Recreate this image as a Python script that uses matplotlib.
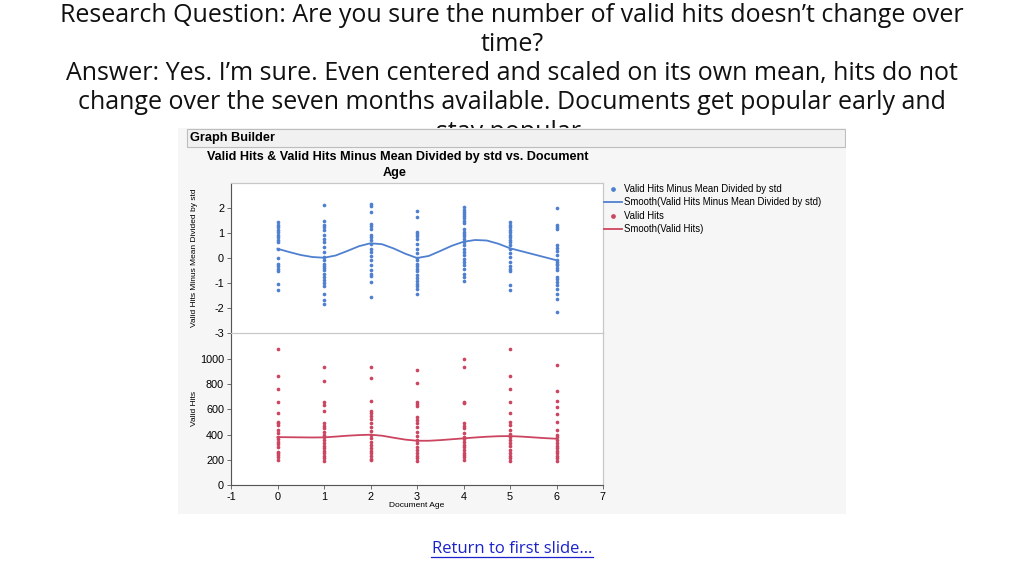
import numpy as np
import matplotlib
matplotlib.use('Agg')
from matplotlib import pyplot as plt
from matplotlib.patches import Rectangle

plt.rcParams['axes.unicode_minus'] = False

ages = [0, 1, 2, 3, 4, 5, 6]

# valid hits centred and scaled (one list per document age)
zHits = [
    [1.43, 1.33, 1.24, 1.13, 1.04, 0.93, 0.84, 0.74, 0.64, 0.37, 0.0, -0.22, -0.32, -0.42, -0.53, -1.05, -1.26],
    [2.13, 1.50, 1.33, 1.24, 1.13, 0.93, 0.77, 0.64, 0.44, 0.24, 0.04, -0.09, -0.22, -0.32, -0.40, -0.49,
     -0.62, -0.75, -0.89, -0.98, -1.11, -1.42, -1.68, -1.82],
    [2.17, 2.10, 1.86, 1.37, 1.27, 1.17, 0.93, 0.84, 0.74, 0.57, 0.37, 0.24, 0.08, -0.09, -0.29, -0.49,
     -0.62, -0.72, -0.95, -1.55],
    [1.90, 1.63, 1.06, 0.97, 0.88, 0.77, 0.57, 0.37, 0.21, 0.0, -0.09, -0.22, -0.32, -0.42, -0.53, -0.66,
     -0.80, -0.93, -1.02, -1.11, -1.22, -1.42],
    [2.03, 1.94, 1.86, 1.77, 1.67, 1.59, 1.50, 1.41, 1.17, 1.06, 0.97, 0.88, 0.77, 0.66, 0.53, 0.37, 0.24,
     0.11, -0.02, -0.16, -0.29, -0.45, -0.62, -0.75, -0.93],
    [1.44, 1.33, 1.24, 1.14, 1.04, 0.93, 0.84, 0.74, 0.64, 0.53, 0.37, 0.21, 0.04, -0.16, -0.32, -0.42,
     -0.53, -1.06, -1.28],
    [2.01, 1.33, 1.24, 1.17, 0.53, 0.40, 0.27, 0.11, -0.09, -0.16, -0.22, -0.29, -0.40, -0.49, -0.75, -0.85,
     -0.95, -1.06, -1.22, -1.42, -1.62, -2.15],
]

validHits = [
    [1077, 868, 759, 661, 569, 503, 490, 476, 437, 410, 384, 362, 344, 325, 304, 265, 250, 238, 220, 198],
    [934, 828, 661, 635, 590, 489, 468, 450, 423, 397, 378, 357, 331, 309, 291, 272, 251, 230, 212, 193],
    [934, 848, 665, 590, 570, 548, 520, 490, 460, 425, 395, 370, 345, 320, 295, 270, 250, 228, 210, 195],
    [913, 812, 661, 643, 627, 537, 516, 489, 458, 423, 389, 357, 331, 304, 278, 251, 230, 212, 193],
    [997, 934, 661, 648, 495, 468, 450, 410, 384, 362, 344, 317, 299, 278, 256, 238, 220, 198],
    [1077, 868, 759, 661, 569, 503, 476, 437, 405, 378, 357, 336, 309, 278, 251, 230, 212, 193],
    [952, 749, 670, 622, 563, 503, 437, 397, 378, 357, 331, 309, 291, 272, 251, 230, 212, 193],
]

# smoother curves at quarter steps
smoothX = [0, 0.25, 0.5, 0.75, 1, 1.25, 1.5, 1.75, 2, 2.25, 2.5, 2.75, 3,
           3.25, 3.5, 3.75, 4, 4.25, 4.5, 4.75, 5, 5.25, 5.5, 5.75, 6]
smoothZ = [0.37, 0.24, 0.12, 0.04, 0.01, 0.10, 0.28, 0.47, 0.59, 0.55, 0.38, 0.17, 0.0,
           0.08, 0.28, 0.49, 0.65, 0.72, 0.70, 0.57, 0.39, 0.27, 0.15, 0.03, -0.09]
smoothHits = [380, 379, 378, 377, 378, 384, 391, 396, 399, 391, 375, 360, 351,
              351, 356, 363, 370, 377, 383, 387, 388, 384, 378, 372, 367]

blue = '#4f80d0'
red = '#cc4560'
W, H = 1024, 575


def box(x0, y0, x1, y1):   # pixel box -> figure fraction rect
    return [x0 / W, 1 - y1 / H, (x1 - x0) / W, (y1 - y0) / H]


fig = plt.figure(figsize=(10.24, 5.75), dpi=100)

# slide text (last line sits behind the picture)
lines = ["Research Question: Are you sure the number of valid hits doesn\u2019t change over",
         "time?",
         "Answer: Yes. I\u2019m sure. Even centered and scaled on its own mean, hits do not",
         "change over the seven months available. Documents get popular early and",
         "stay popular."]
for i, s in enumerate(lines):
    fig.text(0.5, 1 - (15 + 29.3 * i) / H, s, ha='center', va='center', fontsize=18,
             family='Open Sans', color='#111111', zorder=1)

fig.text(0.5, 1 - 549 / H, "Return to first slide\u2026", ha='center', va='center', fontsize=12,
         family='Open Sans', color='#1a22cc', zorder=1)
fig.add_artist(plt.Line2D([431 / W, 593 / W], [1 - 557 / H, 1 - 557 / H], color='#1a22cc', lw=0.9))

# graph builder panel
panel = fig.add_axes(box(178, 128, 846, 514), zorder=2)
panel.set_xlim(178, 846)
panel.set_ylim(514, 128)
panel.set_facecolor('#f6f6f6')
panel.set_xticks([])
panel.set_yticks([])
for sp in panel.spines.values():
    sp.set_visible(False)
panel.add_patch(Rectangle((187, 129), 658, 18, facecolor='#f1f1f1', edgecolor='#bdbdbd', lw=0.8))
panel.text(190, 138, "Graph Builder", fontsize=9.2, fontweight='bold', family='Liberation Sans',
           va='center', ha='left')
panel.text(398, 157, "Valid Hits & Valid Hits Minus Mean Divided by std vs. Document", fontsize=9.1,
           fontweight='bold', family='Liberation Sans', va='center', ha='center')
panel.text(395, 173, "Age", fontsize=9.1, fontweight='bold', family='Liberation Sans',
           va='center', ha='center')
panel.add_patch(Rectangle((231, 183), 372, 302, facecolor='white', edgecolor='#c8c8c8', lw=0.8))

axTop = fig.add_axes(box(231, 183, 603, 333), zorder=3)
axBot = fig.add_axes(box(231, 333, 603, 485), zorder=3, sharex=axTop)

for age, vals in zip(ages, zHits):
    axTop.scatter([age] * len(vals), vals, s=7, color=blue, linewidths=0)
for age, vals in zip(ages, validHits):
    axBot.scatter([age] * len(vals), vals, s=7, color=red, linewidths=0)
lineTop, = axTop.plot(smoothX, smoothZ, color=blue, lw=1.3)
lineBot, = axBot.plot(smoothX, smoothHits, color=red, lw=1.3)

axTop.set_ylim(-3, 3)
axTop.set_yticks([-3, -2, -1, 0, 1, 2])
axBot.set_ylim(0, 1206)
axBot.set_yticks([0, 200, 400, 600, 800, 1000])
axBot.set_xlim(-1, 7)
axBot.set_xticks(range(-1, 8))

for ax in (axTop, axBot):
    ax.set_facecolor('none')
    for sp in ax.spines.values():
        sp.set_color('#c8c8c8')
        sp.set_linewidth(0.8)
    ax.spines['left'].set_color('#555555')
    ax.tick_params(labelsize=7.8, length=3, width=0.6, color='#555555', pad=2)
    for lab in ax.get_xticklabels() + ax.get_yticklabels():
        lab.set_family('Liberation Sans')
axTop.tick_params(axis='x', bottom=False, labelbottom=False)
axBot.spines['bottom'].set_color('#555555')

axTop.set_ylabel("Valid Hits Minus Mean Divided by std", fontsize=6, family='Liberation Sans')
axBot.set_ylabel("Valid Hits", fontsize=6, family='Liberation Sans')
axBot.set_xlabel("Document Age", fontsize=6, family='Liberation Sans', labelpad=0)
axTop.yaxis.set_label_coords(-0.088, 0.5)
axBot.yaxis.set_label_coords(-0.088, 0.5)

dotB = plt.Line2D([], [], marker='o', ls='none', color=blue, markersize=2.4)
dotR = plt.Line2D([], [], marker='o', ls='none', color=red, markersize=2.4)
leg = fig.legend([dotB, lineTop, dotR, lineBot],
                 ["Valid Hits Minus Mean Divided by std", "Smooth(Valid Hits Minus Mean Divided by std)",
                  "Valid Hits", "Smooth(Valid Hits)"],
                 loc='upper left', bbox_to_anchor=(604 / W, 1 - 184 / H), frameon=False,
                 prop={'family': 'Liberation Sans', 'size': 6.9}, handlelength=1.9,
                 handletextpad=0.2, labelspacing=0.36, borderaxespad=0, borderpad=0)
leg.set_zorder(4)

fig.savefig('out.png', dpi=100)
